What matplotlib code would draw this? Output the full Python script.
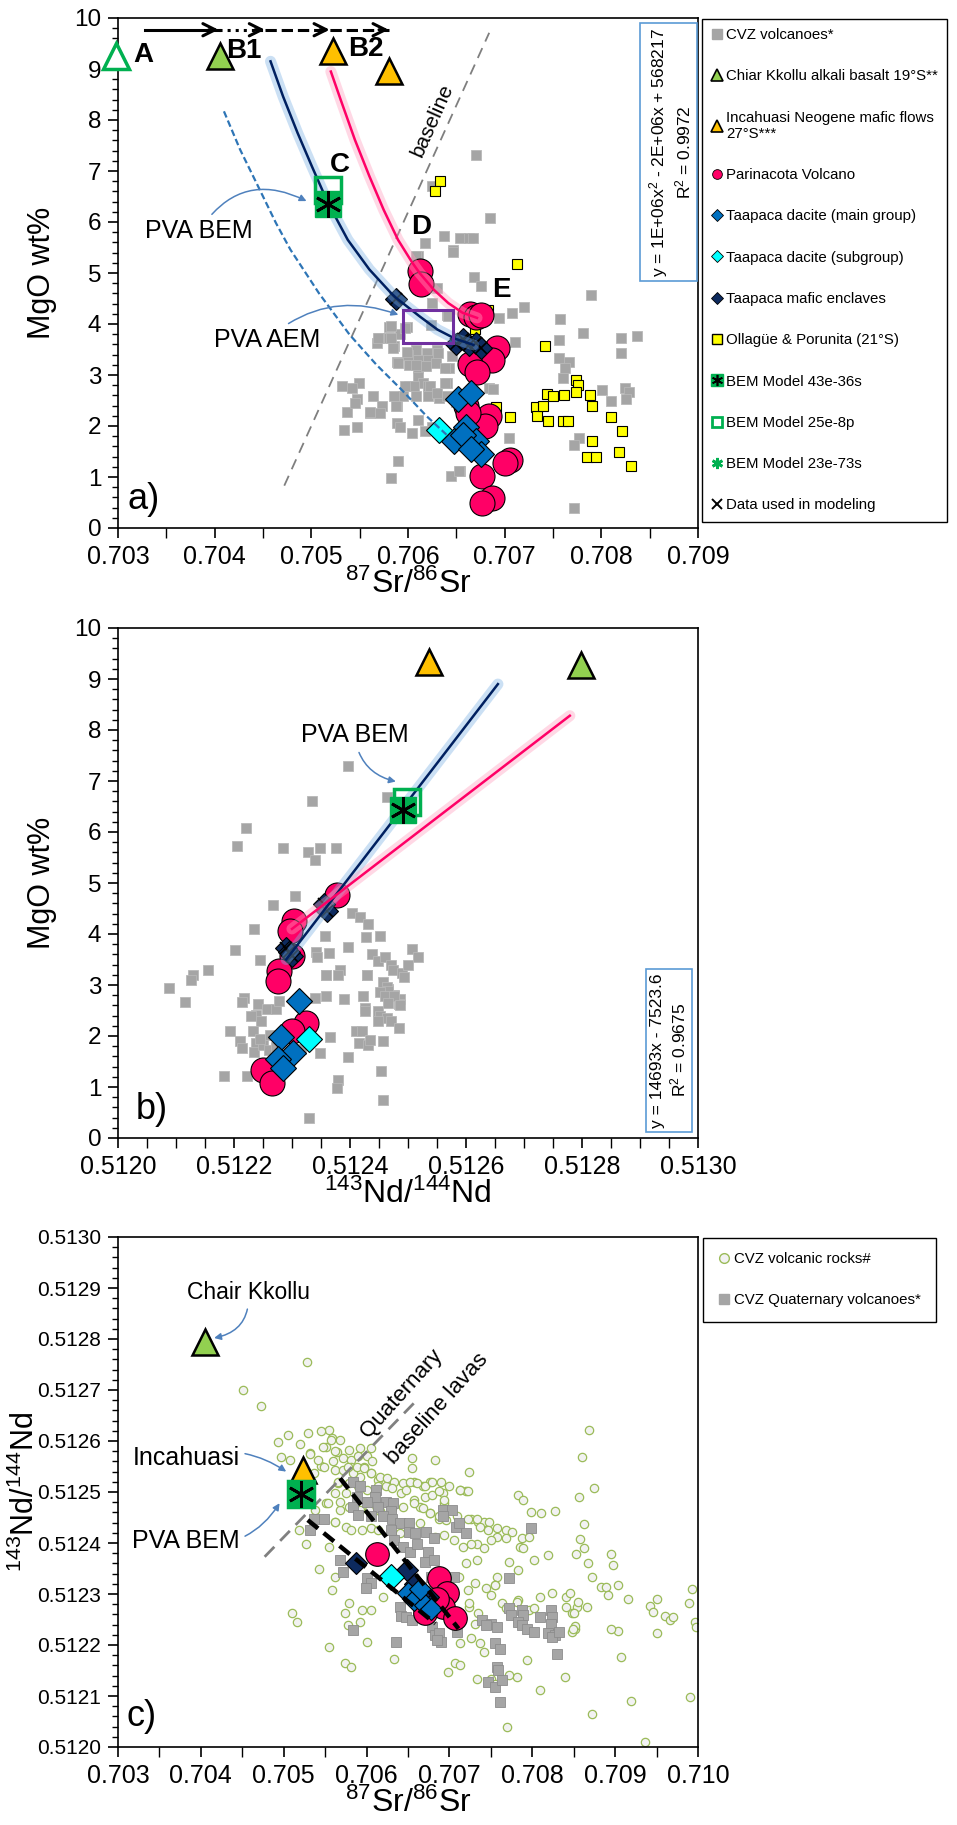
import matplotlib
matplotlib.use('Agg')
import matplotlib.pyplot as plt
from matplotlib.lines import Line2D
from matplotlib.ticker import MultipleLocator, FormatStrFormatter

plt.rcParams['font.family'] = 'Liberation Sans'
plt.rcParams['mathtext.fontset'] = 'custom'
plt.rcParams['mathtext.rm'] = 'Liberation Sans'

# ---------------- panel a: MgO vs 87Sr/86Sr ----------------
cvz_a_sr = [0.70670, 0.70625, 0.70685, 0.70637, 0.70654, 0.70663, 0.70667, 0.70618, 0.70647, 0.70610,
            0.70668, 0.70675, 0.70630, 0.70625, 0.70640, 0.70694, 0.70708, 0.70720, 0.70789, 0.70757,
            0.70781, 0.70756, 0.70820, 0.70837, 0.70820, 0.70711, 0.70756, 0.70767, 0.70762, 0.70760,
            0.70801, 0.70810, 0.70824, 0.70829, 0.70825, 0.70684, 0.70688, 0.70704, 0.70777, 0.70772,
            0.70590, 0.70582, 0.70654, 0.70644, 0.70772, 0.70580, 0.70599, 0.70570, 0.70580, 0.70585,
            0.70568, 0.70592, 0.70608, 0.70620, 0.70630, 0.70600, 0.70610, 0.70621, 0.70589, 0.70601,
            0.70618, 0.70610, 0.70642, 0.70610, 0.70615, 0.70601, 0.70621, 0.70640, 0.70595, 0.70608,
            0.70621, 0.70632, 0.70640, 0.70564, 0.70549, 0.70542, 0.70532, 0.70547, 0.70573, 0.70589,
            0.70561, 0.70571, 0.70537, 0.70589, 0.70592, 0.70610, 0.70625, 0.70604, 0.70547, 0.70534,
            0.70618, 0.70637, 0.70545, 0.70569, 0.70582, 0.70584, 0.70582, 0.70597, 0.70599, 0.70608,
            0.70590, 0.70619, 0.70629, 0.70631, 0.70606, 0.70623, 0.70638, 0.70630, 0.70645, 0.70638,
            0.70597, 0.70624, 0.70641, 0.70647, 0.70608, 0.70650, 0.70653, 0.70585, 0.70588, 0.70561]
cvz_a_mgo = [7.32, 6.70, 6.07, 5.72, 5.69, 5.69, 5.69, 5.59, 5.46, 5.33,
             4.93, 4.74, 4.71, 4.41, 4.18, 4.12, 4.22, 4.33, 4.56, 4.10,
             3.82, 3.69, 3.73, 3.76, 3.44, 3.64, 3.33, 3.25, 3.14, 2.94,
             2.70, 2.50, 2.75, 2.66, 2.53, 2.75, 2.72, 1.76, 1.76, 1.63,
             1.31, 0.98, 1.11, 1.01, 0.39, 3.95, 3.95, 3.72, 3.72, 3.56,
             3.63, 3.80, 3.50, 3.43, 3.50, 3.40, 3.30, 3.30, 3.25, 3.20,
             3.18, 3.14, 3.14, 2.97, 2.84, 2.78, 2.78, 2.84, 2.58, 2.58,
             2.58, 2.55, 2.58, 2.58, 2.84, 2.75, 2.78, 2.52, 2.39, 2.39,
             2.25, 2.25, 2.27, 2.06, 1.99, 2.12, 1.99, 1.86, 1.98, 1.93,
             1.90, 1.86, 2.45, 3.73, 3.73, 3.53, 3.97, 3.92, 3.46, 3.20,
             3.24, 3.17, 3.24, 3.43, 2.78, 2.78, 2.84, 2.65, 3.37, 3.14,
             2.78, 3.99, 4.15, 5.42, 5.33, 2.48, 1.11, 2.58, 2.39, 2.27]

oll_sr = [0.70633, 0.70628, 0.70713, 0.70683, 0.70669, 0.70671, 0.70742, 0.70691, 0.70706, 0.70744,
          0.70750, 0.70761, 0.70774, 0.70776, 0.70774, 0.70788, 0.70790, 0.70732, 0.70733, 0.70740,
          0.70745, 0.70760, 0.70765, 0.70810, 0.70821, 0.70790, 0.70818, 0.70785, 0.70794, 0.70831]
oll_mgo = [6.80, 6.60, 5.18, 4.27, 3.90, 3.32, 3.56, 2.37, 2.17, 2.63,
           2.59, 2.60, 2.91, 2.80, 2.66, 2.60, 2.40, 2.37, 2.19, 2.40,
           2.09, 2.09, 2.09, 2.17, 1.90, 1.70, 1.50, 1.39, 1.39, 1.21]

par_a_sr = [0.70612, 0.70613, 0.70664, 0.70670, 0.70676, 0.70692, 0.70687, 0.70664, 0.70671,
            0.70660, 0.70684, 0.70680, 0.70705, 0.70700, 0.70677, 0.70687, 0.70677, 0.70662]
par_a_mgo = [5.03, 4.78, 4.20, 4.13, 4.17, 3.52, 3.30, 3.22, 3.05,
             2.40, 2.20, 2.00, 1.33, 1.28, 1.02, 0.59, 0.50, 2.25]

tdm_a_sr = [0.70652, 0.70665, 0.70660, 0.70648, 0.70670, 0.70675, 0.70657, 0.70665]
tdm_a_mgo = [2.52, 2.65, 1.98, 1.70, 1.70, 1.45, 1.82, 1.55]
tds_a_sr = [0.70632]
tds_a_mgo = [1.93]
tme_a_sr = [0.70588, 0.70650, 0.70657, 0.70663, 0.70670, 0.70675]
tme_a_mgo = [4.50, 3.60, 3.70, 3.58, 3.62, 3.52]

# end-member triangles: A (open), B1 Chiar Kkollu, B2 Incahuasi, second Incahuasi
tri_a_sr = [0.70298, 0.70405, 0.70522, 0.70580]
tri_a_mgo = [9.25, 9.25, 9.35, 8.97]

bem_open_a = (0.70517, 6.62)
bem_fill_a = (0.70517, 6.36)

# mixing / AFC curves
curve_blue_sr = [0.704578, 0.704708, 0.704857, 0.705006, 0.705173, 0.705377, 0.705600, 0.705823,
                 0.705878, 0.706120, 0.706305, 0.706490, 0.706677]
curve_blue_mgo = [9.15, 8.46, 7.75, 7.09, 6.37, 5.65, 5.07, 4.61, 4.51, 4.15, 3.89, 3.71, 3.59]
curve_red_sr = [0.705202, 0.705303, 0.705451, 0.705600, 0.705748, 0.705897, 0.706045, 0.706120,
                0.706268, 0.706417, 0.706565, 0.706714]
curve_red_mgo = [8.95, 8.40, 7.61, 6.90, 6.24, 5.65, 5.20, 5.00, 4.67, 4.41, 4.22, 4.12]
curve_dash_sr = [0.704096, 0.704263, 0.704449, 0.704634, 0.704783, 0.705080, 0.705396, 0.705674,
                 0.705934, 0.706194, 0.706398]
curve_dash_mgo = [8.17, 7.42, 6.70, 5.98, 5.46, 4.60, 3.79, 3.20, 2.71, 2.19, 1.83]

baseline_a_sr = [0.70472, 0.70684]
baseline_a_mgo = [0.83, 9.71]

aem_box_sr = [0.70595, 0.70647]
aem_box_mgo = [3.63, 4.28]

# arrows across the top: start, end, line style
arrow_start = [0.70328, 0.70404, 0.70452, 0.70519]
arrow_end = [0.70404, 0.70452, 0.70519, 0.70580]
arrow_styles = ['-', ':', '--', '--']
arrow_level = 9.77

point_labels = ['A', 'B1', 'B2', 'C', 'D', 'E']
point_label_sr = [0.70326, 0.70430, 0.70556, 0.70530, 0.70614, 0.70697]
point_label_mgo = [9.28, 9.35, 9.40, 7.12, 5.90, 4.67]

# ---------------- panel b: MgO vs 143Nd/144Nd ----------------
cvz_b_nd = [0.512396, 0.512334, 0.512464, 0.512221, 0.512206, 0.512284, 0.512328, 0.512340, 0.512348, 0.512376,
            0.512305, 0.512268, 0.512234, 0.512201, 0.512244, 0.512155, 0.512130, 0.512125, 0.512088, 0.512116,
            0.512404, 0.512417, 0.512431, 0.512357, 0.512428, 0.512451, 0.512397, 0.512341, 0.512343, 0.512363,
            0.512507, 0.512518, 0.512438, 0.512448, 0.512460, 0.512470, 0.512474, 0.512489, 0.512493, 0.512500,
            0.512383, 0.512380, 0.512359, 0.512430, 0.512457, 0.512466, 0.512476, 0.512487, 0.512484,
            0.512218, 0.512213, 0.512241, 0.512257, 0.512238, 0.512272, 0.512278, 0.512229, 0.512247, 0.512193,
            0.512233, 0.512210, 0.512213, 0.512238, 0.512235, 0.512250, 0.512260, 0.512272, 0.512182, 0.512222,
            0.512329, 0.512349, 0.512365, 0.512397, 0.512410, 0.512420, 0.512415, 0.512431, 0.512434, 0.512457,
            0.512454, 0.512380, 0.512377, 0.512457, 0.512389, 0.512423, 0.512429, 0.512359, 0.512340, 0.512358,
            0.512426, 0.512426, 0.512448, 0.512463, 0.512466, 0.512451, 0.512460, 0.512476, 0.512487, 0.512466,
            0.512451, 0.512463, 0.512448, 0.512470, 0.512484, 0.512315, 0.512300, 0.512245, 0.512262]
cvz_b_mgo = [7.30, 6.61, 6.69, 6.07, 5.72, 5.69, 5.60, 5.46, 5.69, 5.69,
             4.74, 4.56, 4.09, 3.68, 3.49, 3.30, 3.20, 3.10, 2.94, 2.66,
             4.41, 4.33, 4.20, 3.97, 3.94, 3.97, 3.75, 3.65, 3.55, 3.62,
             3.71, 3.55, 3.60, 3.48, 3.55, 3.40, 3.30, 3.24, 3.15, 3.40,
             3.30, 3.20, 3.19, 3.19, 3.05, 2.92, 2.80, 2.73, 2.63,
             2.75, 2.66, 2.62, 2.52, 2.42, 2.52, 2.68, 2.39, 2.29, 2.10,
             2.10, 1.90, 1.76, 1.87, 1.69, 1.83, 1.73, 1.79, 1.21, 1.21,
             0.39, 1.67, 1.99, 1.58, 2.10, 2.10, 1.86, 1.83, 1.93, 1.90,
             1.31, 1.14, 0.99, 0.74, 2.73, 2.78, 3.20, 3.20, 2.75, 2.78,
             2.55, 2.50, 2.50, 2.97, 2.88, 2.86, 2.78, 2.78, 2.60, 2.65,
             2.40, 2.36, 2.30, 2.30, 2.15, 1.75, 1.70, 1.95, 2.02]

par_b_nd = [0.512378, 0.512303, 0.512297, 0.512300, 0.512278, 0.512275, 0.512324, 0.512300, 0.512250, 0.512266]
par_b_mgo = [4.77, 4.25, 4.05, 3.56, 3.27, 3.07, 2.25, 2.09, 1.34, 1.08]
tdm_b_nd = [0.512312, 0.512281, 0.512302, 0.512275, 0.512284]
tdm_b_mgo = [2.68, 1.99, 1.67, 1.54, 1.37]
tds_b_nd = [0.512329]
tds_b_mgo = [1.94]
tme_b_nd = [0.512355, 0.512360, 0.512290, 0.512300, 0.512295]
tme_b_mgo = [4.58, 4.45, 3.73, 3.56, 3.65]

# Incahuasi, Chiar Kkollu
tri_b_nd = [0.512536, 0.512798]
tri_b_mgo = [9.34, 9.28]
bem_open_b = (0.512499, 6.59)
bem_fill_b = (0.512491, 6.43)

line_blue_nd = [0.512290, 0.512655]
line_blue_mgo = [3.50, 8.90]
line_red_nd = [0.512300, 0.512779]
line_red_mgo = [4.10, 8.28]

# ---------------- panel c: 143Nd/144Nd vs 87Sr/86Sr ----------------
rocks_c_sr = [0.70451, 0.70472, 0.70528, 0.70493, 0.70505, 0.70529, 0.70520, 0.70497, 0.70508, 0.70532,
              0.70545, 0.70536, 0.70555, 0.70558, 0.70568, 0.70551, 0.70564, 0.70579, 0.70592, 0.70605,
              0.70571, 0.70581, 0.70590, 0.70601, 0.70607, 0.70562, 0.70571, 0.70581, 0.70597, 0.70605,
              0.70614, 0.70614, 0.70623, 0.70592, 0.70584, 0.70566, 0.70575, 0.70562, 0.70551, 0.70568,
              0.70562, 0.70538, 0.70519, 0.70527, 0.70555, 0.70542, 0.70562, 0.70558, 0.70574, 0.70578,
              0.70592, 0.70601, 0.70555, 0.70574, 0.70581, 0.70633, 0.70510, 0.70516, 0.70605, 0.70594,
              0.70579, 0.70620,
              0.70655, 0.70655, 0.70657, 0.70668, 0.70683, 0.70677, 0.70692, 0.70657, 0.70670, 0.70679,
              0.70664, 0.70677, 0.70687, 0.70694, 0.70713, 0.70720, 0.70724, 0.70726, 0.70735, 0.70742,
              0.70748, 0.70737, 0.70733, 0.70742, 0.70746, 0.70757, 0.70768, 0.70776, 0.70787, 0.70796,
              0.70785, 0.70789, 0.70768, 0.70757, 0.70750, 0.70783, 0.70789, 0.70798, 0.70811, 0.70828,
              0.70802, 0.70819, 0.70772, 0.70783, 0.70757, 0.70755, 0.70750, 0.70763, 0.70768, 0.70774,
              0.70783, 0.70781, 0.70796, 0.70802, 0.70809, 0.70824, 0.70841, 0.70854, 0.70848, 0.70852,
              0.70848, 0.70839, 0.70809, 0.70794, 0.70781, 0.70772, 0.70750, 0.70733, 0.70742, 0.70737,
              0.70731, 0.70724, 0.70713, 0.70707, 0.70698, 0.70713, 0.70726, 0.70770, 0.70755,
              0.70545, 0.70557, 0.70547, 0.70562, 0.70532, 0.70541, 0.70549, 0.70560, 0.70577, 0.70588,
              0.70597, 0.70605, 0.70616, 0.70625, 0.70633, 0.70644, 0.70653, 0.70661, 0.70670, 0.70679,
              0.70690, 0.70700, 0.70713, 0.70722, 0.70566, 0.70579, 0.70590, 0.70601, 0.70631, 0.70642,
              0.70648, 0.70687, 0.70694, 0.70553, 0.70568, 0.70579, 0.70592, 0.70603, 0.70616, 0.70631,
              0.70644, 0.70657, 0.70668, 0.70677, 0.70687, 0.70696, 0.70709, 0.70722, 0.70733, 0.70562,
              0.70575, 0.70581, 0.70594, 0.70605, 0.70614, 0.70640, 0.70651, 0.70664, 0.70683, 0.70694,
              0.70705, 0.70716, 0.70726, 0.70733, 0.70720, 0.70711, 0.70722, 0.70731, 0.70744, 0.70755,
              0.70724, 0.70735, 0.70744,
              0.70868, 0.70860, 0.70875, 0.70856, 0.70863, 0.70857, 0.70862, 0.70853, 0.70867, 0.70872,
              0.70883, 0.70889, 0.70891, 0.70904, 0.70895, 0.70898, 0.70915, 0.70942, 0.70950, 0.70946,
              0.70960, 0.70966, 0.70970, 0.70989, 0.70993, 0.70996, 0.70998, 0.70950, 0.70903, 0.70895,
              0.70851, 0.70849, 0.70907, 0.70919, 0.70990, 0.70872, 0.70936, 0.70845, 0.70855, 0.70841,
              0.70850, 0.70866]
rocks_c_nd = [0.512700, 0.512669, 0.512754, 0.512599, 0.512612, 0.512615, 0.512594, 0.512568, 0.512563, 0.512576,
              0.512551, 0.512537, 0.512622, 0.512606, 0.512602, 0.512589, 0.512579, 0.512583, 0.512586, 0.512586,
              0.512566, 0.512563, 0.512570, 0.512570, 0.512560, 0.512543, 0.512543, 0.512550, 0.512550, 0.512537,
              0.512524, 0.512511, 0.512511, 0.512530, 0.512537, 0.512517, 0.512498, 0.512498, 0.512478, 0.512465,
              0.512442, 0.512465, 0.512426, 0.512399, 0.512393, 0.512350, 0.512334, 0.512308, 0.512262, 0.512239,
              0.512245, 0.512206, 0.512196, 0.512165, 0.512157, 0.512173, 0.512262, 0.512245, 0.512268, 0.512268,
              0.512282, 0.512295,
              0.512566, 0.512547, 0.512520, 0.512511, 0.512563, 0.512520, 0.512498, 0.512484, 0.512491, 0.512494,
              0.512471, 0.512458, 0.512448, 0.512478, 0.512504, 0.512501, 0.512540, 0.512448, 0.512442, 0.512442,
              0.512442, 0.512432, 0.512399, 0.512390, 0.512426, 0.512429, 0.512426, 0.512422, 0.512409, 0.512412,
              0.512393, 0.512390, 0.512409, 0.512412, 0.512406, 0.512494, 0.512484, 0.512461, 0.512458, 0.512462,
              0.512367, 0.512376, 0.512363, 0.512347, 0.512334, 0.512318, 0.512298, 0.512282, 0.512272, 0.512262,
              0.512288, 0.512285, 0.512268, 0.512272, 0.512295, 0.512301, 0.512295, 0.512275, 0.512262, 0.512232,
              0.512226, 0.512137, 0.512111, 0.512170, 0.512137, 0.512141, 0.512134, 0.512134, 0.512187, 0.512203,
              0.512242, 0.512275, 0.512203, 0.512164, 0.512147, 0.512160, 0.512213, 0.512039, 0.512124,
              0.512620, 0.512602, 0.512589, 0.512581, 0.512575, 0.512563, 0.512550, 0.512560, 0.512550, 0.512550,
              0.512547, 0.512537, 0.512530, 0.512527, 0.512520, 0.512517, 0.512520, 0.512517, 0.512511, 0.512520,
              0.512520, 0.512511, 0.512504, 0.512501, 0.512520, 0.512517, 0.512511, 0.512504, 0.512507, 0.512498,
              0.512504, 0.512501, 0.512484, 0.512478, 0.512481, 0.512471, 0.512465, 0.512465, 0.512462, 0.512468,
              0.512471, 0.512478, 0.512468, 0.512458, 0.512452, 0.512445, 0.512452, 0.512448, 0.512448, 0.512442,
              0.512432, 0.512426, 0.512426, 0.512429, 0.512426, 0.512419, 0.512426, 0.512439, 0.512412, 0.512416,
              0.512406, 0.512393, 0.512399, 0.512367, 0.512360, 0.512334, 0.512308, 0.512321, 0.512311, 0.512318,
              0.512282, 0.512262, 0.512242,
              0.512621, 0.512569, 0.512507, 0.512491, 0.512438, 0.512408, 0.512391, 0.512379, 0.512360, 0.512334,
              0.512313, 0.512314, 0.512298, 0.512318, 0.512379, 0.512356, 0.512290, 0.512277, 0.512290, 0.512265,
              0.512257, 0.512249, 0.512255, 0.512282, 0.512309, 0.512245, 0.512235, 0.512223, 0.512228, 0.512231,
              0.512237, 0.512232, 0.512176, 0.512091, 0.512099, 0.512065, 0.512010, 0.512302, 0.512284, 0.512274,
              0.512263, 0.512274]

quat_c_sr = [0.70584, 0.70592, 0.70611, 0.70610, 0.70601, 0.70588, 0.70584, 0.70590, 0.70623, 0.70632,
             0.70630, 0.70614, 0.70620, 0.70605, 0.70631, 0.70640, 0.70651, 0.70651, 0.70659, 0.70629,
             0.70633, 0.70644, 0.70653, 0.70661, 0.70672, 0.70681, 0.70674, 0.70670, 0.70681, 0.70692,
             0.70703, 0.70708, 0.70720, 0.70711, 0.70705, 0.70601, 0.70605, 0.70599, 0.70640, 0.70642,
             0.70648, 0.70655, 0.70679, 0.70683, 0.70687, 0.70690, 0.70709, 0.70584, 0.70636, 0.70536,
             0.70549, 0.70532, 0.70568, 0.70571, 0.70772, 0.70739, 0.70750, 0.70757, 0.70755, 0.70761,
             0.70757, 0.70759, 0.70746, 0.70755, 0.70763, 0.70761, 0.70772, 0.70774, 0.70787, 0.70789,
             0.70783, 0.70787, 0.70794, 0.70802, 0.70809, 0.70822, 0.70824, 0.70822, 0.70819, 0.70828,
             0.70824, 0.70832, 0.70830, 0.70799, 0.70692, 0.70744, 0.70678, 0.70685]
quat_c_nd = [0.512520, 0.512511, 0.512504, 0.512491, 0.512481, 0.512491, 0.512471, 0.512455, 0.512481, 0.512478,
             0.512462, 0.512471, 0.512452, 0.512452, 0.512448, 0.512439, 0.512439, 0.512422, 0.512419, 0.512426,
             0.512406, 0.512393, 0.512383, 0.512399, 0.512422, 0.512409, 0.512383, 0.512363, 0.512367, 0.512465,
             0.512465, 0.512432, 0.512420, 0.512439, 0.512333, 0.512331, 0.512321, 0.512311, 0.512275, 0.512257,
             0.512255, 0.512249, 0.512236, 0.512219, 0.512223, 0.512206, 0.512226, 0.512229, 0.512206, 0.512448,
             0.512448, 0.512426, 0.512367, 0.512344, 0.512331, 0.512249, 0.512242, 0.512236, 0.512203, 0.512193,
             0.512157, 0.512151, 0.512128, 0.512118, 0.512131, 0.512088, 0.512272, 0.512259, 0.512268, 0.512259,
             0.512246, 0.512239, 0.512232, 0.512226, 0.512255, 0.512268, 0.512255, 0.512242, 0.512223, 0.512219,
             0.512216, 0.512226, 0.512183, 0.512429, 0.512452, 0.512239, 0.512334, 0.512209]

par_c_sr = [0.70613, 0.70687, 0.70697, 0.70692, 0.70707, 0.70670, 0.70685]
par_c_nd = [0.512378, 0.512332, 0.512301, 0.512275, 0.512252, 0.512262, 0.512290]
tme_c_sr = [0.70587, 0.70649, 0.70659, 0.70674, 0.70665]
tme_c_nd = [0.512360, 0.512348, 0.512320, 0.512295, 0.512300]
tdm_c_sr = [0.70650, 0.70657, 0.70670, 0.70678, 0.70664]
tdm_c_nd = [0.512301, 0.512288, 0.512278, 0.512270, 0.512310]
tds_c_sr = [0.70630]
tds_c_nd = [0.512334]

# Chiar Kkollu, Incahuasi
tri_c_sr = [0.70405, 0.70523]
tri_c_nd = [0.512795, 0.512543]
bem_c = (0.70521, 0.512496)

trend1_sr = [0.70568, 0.70711]
trend1_nd = [0.512527, 0.512232]
trend2_sr = [0.70529, 0.70683]
trend2_nd = [0.512445, 0.512242]
baseline_c_sr = [0.70477, 0.70657]
baseline_c_nd = [0.512373, 0.512674]

# ---------------- styles ----------------
GRAY = '#A5A5A5'
PINK = '#FF0066'
BLUE = '#0070C0'
CYAN = '#00FFFF'
NAVY = '#0D2A5E'
ORANGE = '#FFC000'
LGREEN = '#92D050'
GREEN = '#00B050'
ARROW = '#4F81BD'

W, H = 957, 1825
fig = plt.figure(figsize=(W / 100, H / 100), dpi=100)


def place(l, t, r, b):
    return [l / W, 1 - b / H, (r - l) / W, (b - t) / H]


def style_axes(ax, ylab_x):
    for s in ax.spines.values():
        s.set_color('black')
        s.set_linewidth(1.2)
    ax.tick_params(which='major', direction='out', length=7, width=1.2, pad=5)
    ax.tick_params(which='minor', direction='out', length=4, width=1.0)
    ax.tick_params(axis='x', which='minor', length=7)
    ax.tick_params(axis='x', labelsize=18)
    ax.tick_params(axis='y', labelsize=17.5)
    ax.yaxis.set_label_coords(ylab_x, 0.5)


def glow_line(ax, x, y, color, glow):
    ax.plot(x, y, color=glow, lw=8, alpha=0.4, solid_capstyle='round', zorder=6)
    ax.plot(x, y, color=color, lw=1.8, zorder=7)


def bem(ax, xo, yo, xf, yf, size=19):
    ax.plot(xo, yo, 's', ms=size, mfc='none', mec=GREEN, mew=2.5, zorder=8)
    ax.plot(xf, yf, 's', ms=size, mfc=GREEN, mec=GREEN, zorder=8)
    ax.plot(xf, yf, marker=(6, 2, 0), ms=size, color='black', mew=2, zorder=9)


def note(ax, text, xy, xytext, rad, size=18):
    ax.annotate(text, xy=xy, xytext=xytext, fontsize=size, ha='center', va='center',
                arrowprops=dict(arrowstyle='-|>', color=ARROW, lw=1.1, mutation_scale=10,
                                shrinkA=2, shrinkB=0, connectionstyle='arc3,rad=%s' % rad),
                zorder=12)


mk = dict(mec='black', mew=0.8, ls='none')

# ---------------- panel a ----------------
ax = fig.add_axes(place(118, 18, 698, 528))
style_axes(ax, -0.105)
ax.set_xlim(0.703, 0.709)
ax.set_ylim(0, 10)
ax.xaxis.set_major_locator(MultipleLocator(0.001))
ax.xaxis.set_minor_locator(MultipleLocator(0.0005))
ax.xaxis.set_major_formatter(FormatStrFormatter('%.3f'))
ax.yaxis.set_major_locator(MultipleLocator(1))
ax.yaxis.set_minor_locator(MultipleLocator(0.2))
ax.set_xlabel(r'$\mathregular{^{87}Sr/^{86}Sr}$', fontsize=23, labelpad=0)
ax.set_ylabel('MgO wt%', fontsize=22)

ax.plot(baseline_a_sr, baseline_a_mgo, color='#7F7F7F', lw=1.3, dashes=(6, 4), zorder=1)
ax.text(0.70625, 8.0, 'baseline', fontsize=15, rotation=66, ha='center', va='center')

ax.plot(cvz_a_sr, cvz_a_mgo, 's', ms=6.5, mfc=GRAY, mec='#B8B8B8', mew=0.6, ls='none', zorder=2)
ax.plot(oll_sr, oll_mgo, 's', ms=6.5, mfc='#FFFF00', **mk, zorder=3)
ax.plot(par_a_sr, par_a_mgo, 'o', ms=18, mfc=PINK, **mk, zorder=4)
ax.plot(tdm_a_sr, tdm_a_mgo, 'D', ms=13.5, mfc=BLUE, **mk, zorder=5)
ax.plot(tds_a_sr, tds_a_mgo, 'D', ms=13.5, mfc=CYAN, **mk, zorder=5)
ax.plot(tme_a_sr, tme_a_mgo, 'D', ms=11, mfc=NAVY, **mk, zorder=5)
ax.plot(tme_a_sr, tme_a_mgo, 'x', ms=9, color='black', mew=1.2, zorder=5)

glow_line(ax, curve_blue_sr, curve_blue_mgo, '#002060', '#7FB2E5')
glow_line(ax, curve_red_sr, curve_red_mgo, PINK, '#FF9FBF')
ax.plot(curve_dash_sr, curve_dash_mgo, color='#2E75B6', lw=1.6, dashes=(3, 1.5), zorder=6)

ax.add_patch(plt.Rectangle((aem_box_sr[0], aem_box_mgo[0]), aem_box_sr[1] - aem_box_sr[0],
                           aem_box_mgo[1] - aem_box_mgo[0], fill=False, ec='#7030A0', lw=2.2, zorder=8))

ax.plot(tri_a_sr[:1], tri_a_mgo[:1], '^', ms=19, mfc='white', mec=GREEN, mew=2.5, ls='none', zorder=8, clip_on=False)
ax.plot(tri_a_sr[1:2], tri_a_mgo[1:2], '^', ms=19, mfc=LGREEN, mec='black', mew=1.8, ls='none', zorder=8)
ax.plot(tri_a_sr[2:], tri_a_mgo[2:], '^', ms=19, mfc=ORANGE, mec='black', mew=1.8, ls='none', zorder=8)
bem(ax, bem_open_a[0], bem_open_a[1], bem_fill_a[0], bem_fill_a[1])

for x0, x1, st in zip(arrow_start, arrow_end, arrow_styles):
    ax.plot([x0, x1], [arrow_level, arrow_level], color='black', lw=2.2, ls=st, zorder=9)
    ax.annotate('', xy=(x1, arrow_level), xytext=(x1 - 0.0001, arrow_level),
                arrowprops=dict(arrowstyle='->', lw=2.2, color='black', mutation_scale=22,
                                shrinkA=0, shrinkB=0), zorder=9)

for lab, x, y in zip(point_labels, point_label_sr, point_label_mgo):
    ax.text(x, y, lab, fontsize=20, fontweight='bold', ha='center', va='center', zorder=10)

note(ax, 'PVA BEM', (0.70495, 6.41), (0.70384, 5.82), -0.45)
note(ax, 'PVA AEM', (0.70590, 4.18), (0.70454, 3.69), -0.3)

ax.text(0.70871, 7.37, 'y = 1E+06x$\\mathregular{^2}$ - 2E+06x + 568217\nR$\\mathregular{^2}$ = 0.9972',
        rotation=90, fontsize=12.5, ha='center', va='center', multialignment='center',
        bbox=dict(boxstyle='square,pad=0.25', fc='white', ec='#5B9BD5', lw=1.2), zorder=11)
ax.text(0.7031, 0.55, 'a)', fontsize=26, ha='left', va='center')

# legend shared by panels a and b
h_leg = [
    Line2D([], [], marker='s', ms=7, mfc=GRAY, mec=GRAY, ls='none'),
    Line2D([], [], marker='^', ms=8, mfc=LGREEN, mec='black', mew=1.2, ls='none'),
    Line2D([], [], marker='^', ms=8, mfc=ORANGE, mec='black', mew=1.2, ls='none'),
    Line2D([], [], marker='o', ms=7, mfc=PINK, mec='black', mew=0.6, ls='none'),
    Line2D([], [], marker='D', ms=6, mfc=BLUE, mec='black', mew=0.6, ls='none'),
    Line2D([], [], marker='D', ms=6, mfc=CYAN, mec='black', mew=0.6, ls='none'),
    Line2D([], [], marker='D', ms=6, mfc=NAVY, mec='black', mew=0.6, ls='none'),
    Line2D([], [], marker='s', ms=7, mfc='#FFFF00', mec='black', mew=1, ls='none'),
    (Line2D([], [], marker='s', ms=8, mfc=GREEN, mec=GREEN, ls='none'),
     Line2D([], [], marker=(6, 2, 0), ms=8, color='black', mew=1.2, ls='none')),
    Line2D([], [], marker='s', ms=7, mfc='white', mec=GREEN, mew=2, ls='none'),
    Line2D([], [], marker=(6, 2, 0), ms=8, color=GREEN, mew=2, ls='none'),
    Line2D([], [], marker='x', ms=7, color='black', mew=1.4, ls='none'),
]
l_leg = ['CVZ volcanoes*', 'Chiar Kkollu alkali basalt 19°S**', 'Incahuasi Neogene mafic flows\n27°S***',
         'Parinacota Volcano', 'Taapaca dacite (main group)', 'Taapaca dacite (subgroup)',
         'Taapaca mafic enclaves', 'Ollagüe & Porunita (21°S)', 'BEM Model 43e-36s', 'BEM Model 25e-8p',
         'BEM Model 23e-73s', 'Data used in modeling']
leg = fig.legend(h_leg, l_leg, loc='upper left', bbox_to_anchor=(702 / W, 1 - 19 / H),
                 bbox_transform=fig.transFigure, borderaxespad=0, fontsize=10.8, labelspacing=1.82,
                 handlelength=0.8, handletextpad=0.2, borderpad=0.6, fancybox=False, framealpha=1)
leg.get_frame().set_edgecolor('black')
leg.get_frame().set_linewidth(1.0)

# ---------------- panel b ----------------
ax = fig.add_axes(place(118, 628, 698, 1138))
style_axes(ax, -0.105)
ax.set_xlim(0.5120, 0.5130)
ax.set_ylim(0, 10)
ax.xaxis.set_major_locator(MultipleLocator(0.0002))
ax.xaxis.set_minor_locator(MultipleLocator(0.00005))
ax.xaxis.set_major_formatter(FormatStrFormatter('%.4f'))
ax.yaxis.set_major_locator(MultipleLocator(1))
ax.yaxis.set_minor_locator(MultipleLocator(0.2))
ax.set_xlabel(r'$\mathregular{^{143}Nd/^{144}Nd}$', fontsize=23, labelpad=0)
ax.set_ylabel('MgO wt%', fontsize=22)

ax.plot(cvz_b_nd, cvz_b_mgo, 's', ms=6.5, mfc=GRAY, mec='#B8B8B8', mew=0.6, ls='none', zorder=2)
ax.plot(par_b_nd, par_b_mgo, 'o', ms=18, mfc=PINK, **mk, zorder=4)
ax.plot(tdm_b_nd, tdm_b_mgo, 'D', ms=13.5, mfc=BLUE, **mk, zorder=5)
ax.plot(tds_b_nd, tds_b_mgo, 'D', ms=13.5, mfc=CYAN, **mk, zorder=5)
ax.plot(tme_b_nd, tme_b_mgo, 'D', ms=11, mfc=NAVY, **mk, zorder=5)
ax.plot(tme_b_nd, tme_b_mgo, 'x', ms=9, color='black', mew=1.2, zorder=5)
glow_line(ax, line_blue_nd, line_blue_mgo, '#002060', '#7FB2E5')
glow_line(ax, line_red_nd, line_red_mgo, PINK, '#FF9FBF')
ax.plot(tri_b_nd[:1], tri_b_mgo[:1], '^', ms=19, mfc=ORANGE, mec='black', mew=1.8, ls='none', zorder=8)
ax.plot(tri_b_nd[1:], tri_b_mgo[1:], '^', ms=19, mfc=LGREEN, mec='black', mew=1.8, ls='none', zorder=8)
bem(ax, bem_open_b[0], bem_open_b[1], bem_fill_b[0], bem_fill_b[1])
note(ax, 'PVA BEM', (0.512479, 6.99), (0.512408, 7.90), 0.35)
ax.text(0.51295, 1.72, 'y = 14693x - 7523.6\nR$\\mathregular{^2}$ = 0.9675', rotation=90, fontsize=12.5,
        ha='center', va='center', multialignment='center',
        bbox=dict(boxstyle='square,pad=0.25', fc='white', ec='#5B9BD5', lw=1.2), zorder=11)
ax.text(0.51203, 0.55, 'b)', fontsize=26, ha='left', va='center')

# ---------------- panel c ----------------
ax = fig.add_axes(place(118, 1237, 698, 1747))
style_axes(ax, -0.133)
ax.set_xlim(0.703, 0.710)
ax.set_ylim(0.5120, 0.5130)
ax.xaxis.set_major_locator(MultipleLocator(0.001))
ax.xaxis.set_minor_locator(MultipleLocator(0.0005))
ax.xaxis.set_major_formatter(FormatStrFormatter('%.3f'))
ax.yaxis.set_major_locator(MultipleLocator(0.0001))
ax.yaxis.set_minor_locator(MultipleLocator(0.00002))
ax.yaxis.set_major_formatter(FormatStrFormatter('%.4f'))
ax.tick_params(axis='y', which='major', labelsize=15)
ax.set_xlabel(r'$\mathregular{^{87}Sr/^{86}Sr}$', fontsize=23, labelpad=0)
ax.set_ylabel(r'$\mathregular{^{143}Nd/^{144}Nd}$', fontsize=22)

ax.plot(rocks_c_sr, rocks_c_nd, 'o', ms=6, mfc='#F2F2F2', mec='#9BBB59', mew=0.9, ls='none', zorder=2)
ax.plot(quat_c_sr, quat_c_nd, 's', ms=6.5, mfc=GRAY, mec='#8C8C8C', mew=0.6, ls='none', zorder=3)
ax.plot(baseline_c_sr, baseline_c_nd, color='#808080', lw=2, dashes=(5, 3), zorder=3)
ax.text(0.70642, 0.512694, 'Quaternary', fontsize=16, rotation=48, ha='center', va='center')
ax.text(0.70685, 0.512664, 'baseline lavas', fontsize=16, rotation=48, ha='center', va='center')

ax.plot(par_c_sr, par_c_nd, 'o', ms=17, mfc=PINK, **mk, zorder=4)
ax.plot(tme_c_sr, tme_c_nd, 'D', ms=11, mfc=NAVY, **mk, zorder=5)
ax.plot(tdm_c_sr, tdm_c_nd, 'D', ms=11, mfc=BLUE, **mk, zorder=5)
ax.plot(tds_c_sr, tds_c_nd, 'D', ms=13, mfc=CYAN, **mk, zorder=5)
ax.plot(trend1_sr, trend1_nd, color='black', lw=3.2, dashes=(3, 1.6), zorder=7)
ax.plot(trend2_sr, trend2_nd, color='black', lw=3.2, dashes=(3, 1.6), zorder=7)
ax.plot(tri_c_sr[:1], tri_c_nd[:1], '^', ms=19, mfc=LGREEN, mec='black', mew=1.8, ls='none', zorder=8)
ax.plot(tri_c_sr[1:], tri_c_nd[1:], '^', ms=19, mfc=ORANGE, mec='black', mew=1.8, ls='none', zorder=8)
bem(ax, bem_c[0], bem_c[1], bem_c[0], bem_c[1])

note(ax, 'Chair Kkollu', (0.70416, 0.512802), (0.70457, 0.512892), -0.45, size=16.5)
note(ax, 'Incahuasi', (0.70503, 0.512540), (0.70382, 0.512566), -0.25)
note(ax, 'PVA BEM', (0.70495, 0.512478), (0.70382, 0.512403), 0.35)
ax.text(0.7031, 0.51206, 'c)', fontsize=26, ha='left', va='center')

h_c = [Line2D([], [], marker='o', ms=7, mfc='#F2F2F2', mec='#9BBB59', mew=1, ls='none'),
       Line2D([], [], marker='s', ms=7, mfc=GRAY, mec=GRAY, ls='none')]
leg_c = fig.legend(h_c, ['CVZ volcanic rocks#', 'CVZ Quaternary volcanoes*'], loc='upper left',
                   bbox_to_anchor=(703 / W, 1 - 1238 / H), bbox_transform=fig.transFigure,
                   borderaxespad=0, fontsize=10.8, labelspacing=1.8, handlelength=0.9,
                   handletextpad=0.25, borderpad=0.95, fancybox=False, framealpha=1)
leg_c.get_frame().set_edgecolor('black')
leg_c.get_frame().set_linewidth(1.0)

fig.savefig('out.png', dpi=100)
